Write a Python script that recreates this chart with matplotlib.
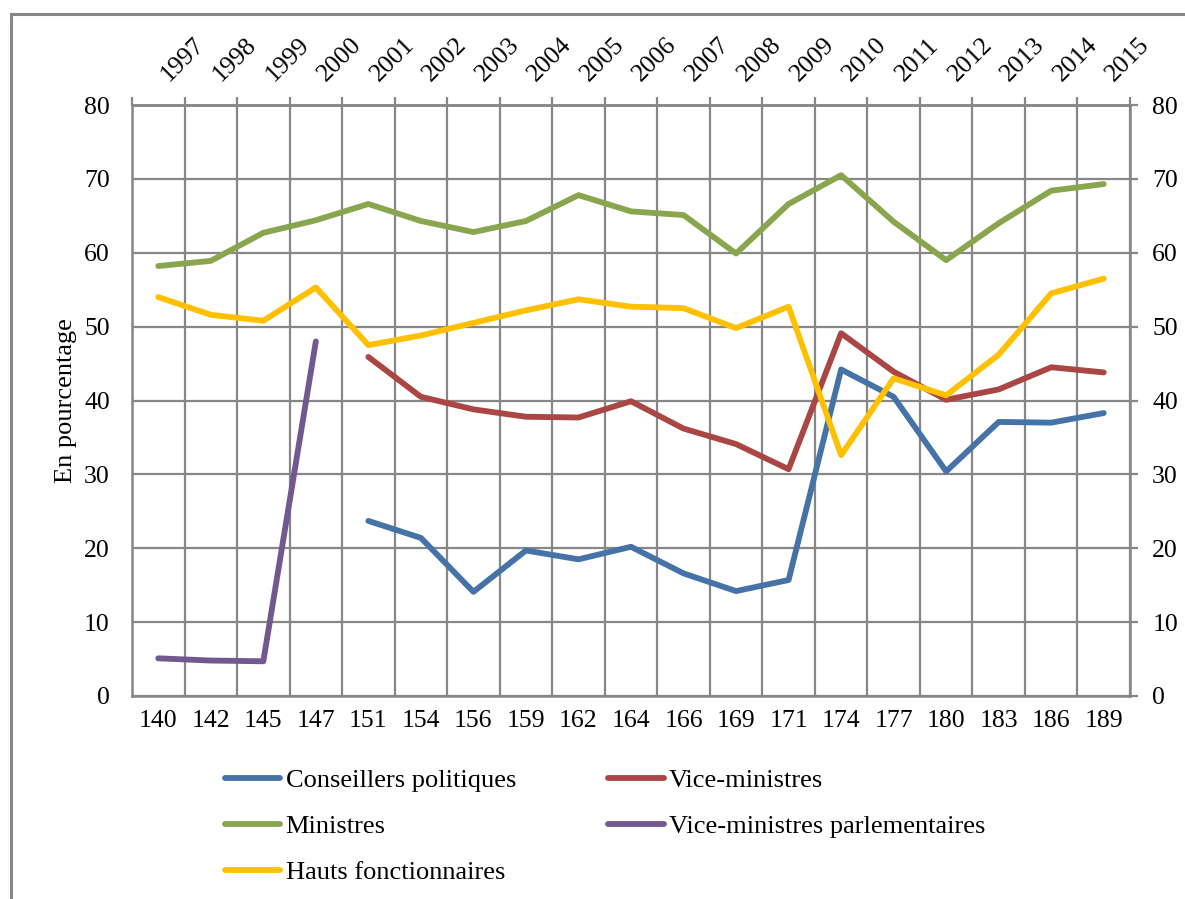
import numpy as np
import matplotlib
matplotlib.use("Agg")
import matplotlib.pyplot as plt
from matplotlib.lines import Line2D
from matplotlib.transforms import ScaledTranslation

plt.rcParams['font.family'] = ['Liberation Serif', 'DejaVu Serif']

sessions = ['140', '142', '145', '147', '151', '154', '156', '159', '162', '164',
            '166', '169', '171', '174', '177', '180', '183', '186', '189']
years = [str(y) for y in range(1997, 2016)]
nan = np.nan

conseillers = [nan, nan, nan, nan, 23.7, 21.4, 14.1, 19.7, 18.5, 20.2,
               16.6, 14.2, 15.7, 44.2, 40.5, 30.4, 37.1, 37.0, 38.3]
vice_ministres = [nan, nan, nan, nan, 45.9, 40.5, 38.8, 37.8, 37.7, 39.9,
                  36.2, 34.1, 30.7, 49.1, 43.9, 40.1, 41.5, 44.5, 43.8]
ministres = [58.2, 58.9, 62.7, 64.4, 66.6, 64.3, 62.8, 64.3, 67.8, 65.6,
             65.1, 59.9, 66.6, 70.5, 64.2, 59.0, 64.0, 68.4, 69.3]
vm_parlementaires = [5.1, 4.8, 4.7, 48.0, nan, nan, nan, nan, nan, nan,
                     nan, nan, nan, nan, nan, nan, nan, nan, nan]
hauts_fonct = [54.0, 51.6, 50.8, 55.3, 47.5, 48.8, 50.5, 52.2, 53.7, 52.7,
               52.5, 49.8, 52.7, 32.6, 43.0, 40.7, 46.2, 54.5, 56.5]

series = [
    ('Conseillers politiques', conseillers, '#4572A7'),
    ('Vice-ministres', vice_ministres, '#AA4643'),
    ('Ministres', ministres, '#89A54E'),
    ('Vice-ministres parlementaires', vm_parlementaires, '#71588F'),
    ('Hauts fonctionnaires', hauts_fonct, '#FFC000'),
]

grid_c = '#878787'
fs = 18.5   # ticks
fs2 = 19    # legend / axis title

fig = plt.figure(figsize=(11.85, 8.99), dpi=100)
# outer frame
fig.add_artist(Line2D([11/1185, 1], [1-14/899, 1-14/899], color=grid_c, lw=2.2))
fig.add_artist(Line2D([11/1185, 11/1185], [0, 1-14/899], color=grid_c, lw=2.2))

ax = fig.add_axes([132/1185, 1-696/899, (1130-132)/1185, (696-105)/899])
x = np.arange(len(sessions))
handles = {}
for name, vals, col in series:
    h, = ax.plot(x, vals, color=col, lw=4.2, solid_capstyle='round',
                 solid_joinstyle='round', label=name, zorder=3)
    handles[name] = h

ax.set_xlim(-0.5, len(sessions) - 0.5)
ax.set_ylim(0, 80)
ax.set_yticks(range(0, 81, 10))
ax.set_xticks(x)
ax.set_xticklabels(sessions, fontsize=fs)
ax.set_xticks(np.arange(-0.5, len(sessions)), minor=True)
ax.tick_params(axis='x', which='both', length=0, pad=10)
ax.tick_params(axis='y', length=0, labelsize=fs, pad=16)
ax.grid(True, which='minor', axis='x', color=grid_c, lw=1.6, zorder=1)
ax.grid(True, which='major', axis='y', color=grid_c, lw=1.6, zorder=1)
ax.set_axisbelow(True)
for s in ax.spines.values():
    s.set_color(grid_c)
    s.set_linewidth(1.8)
ax.set_ylabel('En pourcentage', fontsize=fs2, labelpad=5)

# right axis
axr = ax.twinx()
axr.set_ylim(0, 80)
axr.set_yticks(range(0, 81, 10))
axr.tick_params(axis='y', length=6, width=1.6, color=grid_c, labelsize=fs, pad=10)
for s in axr.spines.values():
    s.set_visible(False)

# top axis with years
axt = ax.secondary_xaxis('top')
axt.set_xticks(np.arange(-0.5, len(sessions)))
axt.set_xticklabels([])
axt.set_xticks(x, minor=True)
axt.set_xticklabels(years, minor=True, fontsize=fs, rotation=45,
                    ha='left', va='center', rotation_mode='anchor')
axt.tick_params(axis='x', which='major', length=6, width=1.6, color=grid_c)
axt.tick_params(axis='x', which='minor', length=0, pad=14)
axt.spines['top'].set_color(grid_c)
axt.spines['top'].set_linewidth(1.8)
shift = ScaledTranslation(6/100, 8/100, fig.dpi_scale_trans)
for lab in axt.get_xticklabels(minor=True):
    lab.set_transform(lab.get_transform() + shift)

order = ['Conseillers politiques', 'Ministres', 'Hauts fonctionnaires',
         'Vice-ministres', 'Vice-ministres parlementaires']
fig.legend([handles[n] for n in order], order, loc='upper left',
           bbox_to_anchor=(225/1185, 1-769/899), ncol=2, frameon=False,
           fontsize=fs2, handlelength=2.1, handletextpad=0.2,
           columnspacing=3.5, labelspacing=0.85, borderaxespad=0, borderpad=0)

fig.savefig('out.png', dpi=100)
